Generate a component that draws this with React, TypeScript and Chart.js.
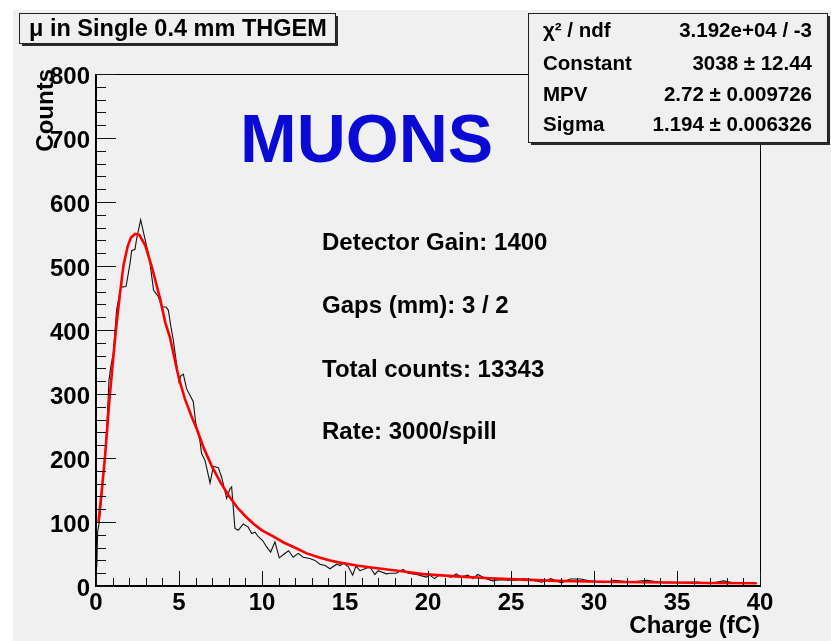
import React, { useEffect, useRef } from 'react';
import { Chart, registerables } from 'chart.js';

Chart.register(...registerables);

const W = 831;
const H = 641;
const FONT = '"Liberation Sans", Arial, Helvetica, sans-serif';

// Histogram (black) points
const histX = [0.05, 0.1, 0.2, 0.34, 0.48, 0.6, 0.72, 0.78, 0.9, 1.04, 1.24, 1.5, 1.81, 2.05, 2.15, 2.35, 2.45, 2.69, 2.97, 3.2, 3.47, 3.76, 3.96, 4.22, 4.36, 4.5, 4.66, 4.82, 5.0, 5.1, 5.26, 5.46, 5.66, 5.86, 6.01, 6.13, 6.27, 6.36, 6.57, 6.87, 7.07, 7.37, 7.57, 7.87, 8.07, 8.17, 8.37, 8.57, 8.87, 9.17, 9.38, 9.58, 9.78, 10.04, 10.28, 10.52, 10.78, 11.04, 11.33, 11.6, 11.88, 12.18, 12.48, 12.88, 13.19, 13.49, 13.8, 14.1, 14.5, 14.7, 14.9, 15.2, 15.46, 15.66, 15.9, 16.2, 16.5, 16.8, 17.0, 17.5, 17.7, 18.1, 18.5, 18.8, 19.3, 19.9, 20.1, 20.4, 20.7, 21.4, 21.7, 22.0, 22.4, 22.7, 23.0, 23.5, 23.9, 24.3, 24.8, 25.3, 25.8, 26.3, 26.85, 27.4, 28.05, 28.55, 29.2, 29.7, 30.6, 31.2, 32.2, 33.2, 34.2, 35.2, 36.2, 37.0, 37.8, 38.6, 39.4, 39.8];
const histY = [30, 85, 100, 139, 186, 223, 285, 321, 344, 363, 431, 467, 468, 504, 524, 526, 543, 572, 540, 514, 462, 452, 436, 436, 431, 407, 384, 353, 319, 328, 331, 308, 298, 288, 254, 242, 225, 207, 196, 161, 187, 185, 170, 137, 152, 155, 90, 87, 97, 92, 82, 84, 77, 71, 61, 53, 69, 44, 50, 55, 45, 51, 45, 43, 40, 34, 32, 27, 34, 32, 36, 30, 17, 31, 24, 27, 30, 18, 24, 19, 20, 20, 26, 20, 18, 14, 17, 11.5, 18, 14, 19, 14, 17, 11.5, 18, 11.5, 8, 10, 9, 9, 11.5, 9, 6, 11.5, 5, 11, 11, 8, 5, 9, 6, 9, 5, 5.5, 6, 4, 8, 4, 4, 4];

// Landau fit (red) points
const fitX = [0.15, 0.35, 0.54, 0.8, 1.0, 1.2, 1.45, 1.65, 1.9, 2.1, 2.35, 2.6, 2.97, 3.37, 3.86, 4.17, 4.46, 4.86, 5.02, 5.36, 5.86, 6.06, 6.5, 7.0, 7.5, 8.0, 8.5, 9.0, 9.5, 10.0, 10.7, 11.3, 11.9, 12.7, 13.4, 14.1, 14.7, 15.7, 16.7, 18.3, 19.7, 21.7, 23.7, 25.7, 27.8, 29.7, 31.6, 34.6, 37, 39.8];
const fitY = [100, 150, 201, 288, 345, 400, 458, 500, 530, 544, 550, 549, 532, 498, 449, 412, 388, 340, 322, 292, 258, 246, 215, 186, 162, 141, 123, 109, 97, 87, 77, 68, 61, 51, 45, 40, 36.5, 32, 28.5, 23.5, 18.5, 15, 12, 10, 8, 7, 6.3, 5.5, 4.8, 4.3];

const X_MIN = 0, X_MAX = 40, X_STEP = 5, X_MINOR = 1;
const Y_MIN = 0, Y_MAX = 800, Y_STEP = 100, Y_MINOR = 20;

const titleText = 'μ in Single 0.4 mm THGEM';
const xTitle = 'Charge (fC)';
const yTitle = 'Counts';
const bigLabel = 'MUONS';
const statsLabels = ['χ² / ndf', 'Constant', 'MPV', 'Sigma'];
const statsValues = ['3.192e+04 / -3', '3038 ± 12.44', '2.72 ± 0.009726', '1.194 ± 0.006326'];
const notes = ['Detector Gain: 1400', 'Gaps (mm): 3 / 2', 'Total counts: 13343', 'Rate: 3000/spill'];

function boxWithShadow(ctx: CanvasRenderingContext2D, x: number, y: number, w: number, h: number) {
  ctx.fillStyle = '#2a2a2a';
  ctx.fillRect(x + 3, y + 3, w, h);
  ctx.fillStyle = '#f0f0f0';
  ctx.fillRect(x, y, w, h);
  ctx.strokeStyle = '#222';
  ctx.lineWidth = 1;
  ctx.strokeRect(x + 0.5, y + 0.5, w, h);
}

const rootPlugin = {
  id: 'rootStyle',
  beforeDraw(chart: any) {
    const ctx = chart.ctx as CanvasRenderingContext2D;
    ctx.save();
    ctx.fillStyle = '#ffffff';
    ctx.fillRect(0, 0, W, H);
    ctx.fillStyle = '#f0f0f0';
    ctx.fillRect(13, 10, W - 13, H - 10);
    ctx.restore();
  },
  afterDraw(chart: any) {
    const ctx = chart.ctx as CanvasRenderingContext2D;
    const a = chart.chartArea;
    const xs = chart.scales.x;
    const ys = chart.scales.y;
    ctx.save();

    // frame
    ctx.strokeStyle = '#000';
    ctx.lineWidth = 1;
    ctx.strokeRect(Math.round(a.left) + 0.5, Math.round(a.top) + 0.5, Math.round(a.right - a.left), Math.round(a.bottom - a.top));
    ctx.lineWidth = 2;
    ctx.beginPath();
    ctx.moveTo(a.left, a.top);
    ctx.lineTo(a.left, a.bottom);
    ctx.lineTo(a.right, a.bottom);
    ctx.stroke();

    // ticks (inward)
    ctx.lineWidth = 1;
    ctx.strokeStyle = '#111';
    ctx.beginPath();
    for (let v = Y_MIN; v <= Y_MAX + 1e-6; v += Y_MINOR) {
      const py = Math.round(ys.getPixelForValue(v)) + 0.5;
      const len = Math.abs(v % Y_STEP) < 1e-6 ? 20 : 10;
      ctx.moveTo(a.left, py);
      ctx.lineTo(a.left + len, py);
    }
    for (let v = X_MIN; v <= X_MAX + 1e-6; v += X_MINOR) {
      const px = Math.round(xs.getPixelForValue(v)) + 0.5;
      const len = Math.abs(v % X_STEP) < 1e-6 ? 15 : 8;
      ctx.moveTo(px, a.bottom);
      ctx.lineTo(px, a.bottom - len);
    }
    ctx.stroke();

    // axis titles
    ctx.fillStyle = '#000';
    ctx.font = `bold 24px ${FONT}`;
    ctx.textAlign = 'right';
    ctx.textBaseline = 'alphabetic';
    ctx.fillText(xTitle, a.right, 633);
    ctx.save();
    ctx.translate(53, 69);
    ctx.rotate(-Math.PI / 2);
    ctx.textAlign = 'right';
    ctx.fillText(yTitle, 0, 0);
    ctx.restore();

    // MUONS label
    ctx.fillStyle = '#0a0ad4';
    ctx.font = `bold 68px ${FONT}`;
    ctx.textAlign = 'left';
    ctx.fillText(bigLabel, 240, 162);

    // notes
    ctx.fillStyle = '#000';
    ctx.font = `bold 24px ${FONT}`;
    const noteBase = [250, 313, 377, 439];
    notes.forEach((t, i) => ctx.fillText(t, 322, noteBase[i]));

    // title box
    boxWithShadow(ctx, 19, 13, 316, 30);
    ctx.fillStyle = '#000';
    ctx.font = `bold 23.5px ${FONT}`;
    ctx.textAlign = 'left';
    ctx.fillText(titleText, 29, 36);

    // stats box
    boxWithShadow(ctx, 528, 13, 299, 129);
    ctx.fillStyle = '#000';
    ctx.font = `bold 20.5px ${FONT}`;
    const rowBase = [37, 70, 101, 131];
    statsLabels.forEach((t, i) => {
      ctx.textAlign = 'left';
      ctx.fillText(t, 543, rowBase[i]);
      ctx.textAlign = 'right';
      ctx.fillText(statsValues[i], 812, rowBase[i]);
    });

    ctx.restore();
  },
};

export default function App() {
  const ref = useRef<HTMLCanvasElement | null>(null);

  useEffect(() => {
    document.body.style.margin = '0';
    const canvas = ref.current;
    if (!canvas) return;
    const histData = histX.map((x, i) => ({ x, y: histY[i] }));
    const fitData = fitX.map((x, i) => ({ x, y: fitY[i] }));
    const tickFont = { family: FONT, size: 24, weight: 'bold' as const };

    const chart = new Chart(canvas, {
      type: 'scatter',
      data: {
        datasets: [
          {
            label: 'fit',
            data: fitData,
            showLine: true,
            borderColor: '#ff0000',
            borderWidth: 2.6,
            pointRadius: 0,
            tension: 0,
          },
          {
            label: 'hist',
            data: histData,
            showLine: true,
            borderColor: '#111111',
            borderWidth: 1.1,
            pointRadius: 0,
            tension: 0,
          },
        ],
      },
      options: {
        responsive: false,
        animation: false,
        devicePixelRatio: 1,
        layout: { padding: { left: 0, top: 74, right: 71, bottom: 0 } },
        plugins: {
          legend: { display: false },
          tooltip: { enabled: false },
          title: { display: false },
        },
        scales: {
          x: {
            type: 'linear',
            min: X_MIN,
            max: X_MAX,
            grid: { display: false, drawTicks: false },
            border: { display: false },
            ticks: { stepSize: X_STEP, color: '#000', font: tickFont, padding: 3, maxRotation: 0 },
            afterFit: (s: any) => { s.height = H - 586; },
          },
          y: {
            type: 'linear',
            min: Y_MIN,
            max: Y_MAX,
            grid: { display: false, drawTicks: false },
            border: { display: false },
            ticks: { stepSize: Y_STEP, color: '#000', font: tickFont, padding: 6, labelOffset: 3 },
            afterFit: (s: any) => { s.width = 96; },
          },
        },
      },
      plugins: [rootPlugin],
    });
    return () => chart.destroy();
  }, []);

  return (
    <div style={{ width: W, height: H }}>
      <canvas ref={ref} width={W} height={H} style={{ width: W, height: H, display: 'block' }} />
    </div>
  );
}
